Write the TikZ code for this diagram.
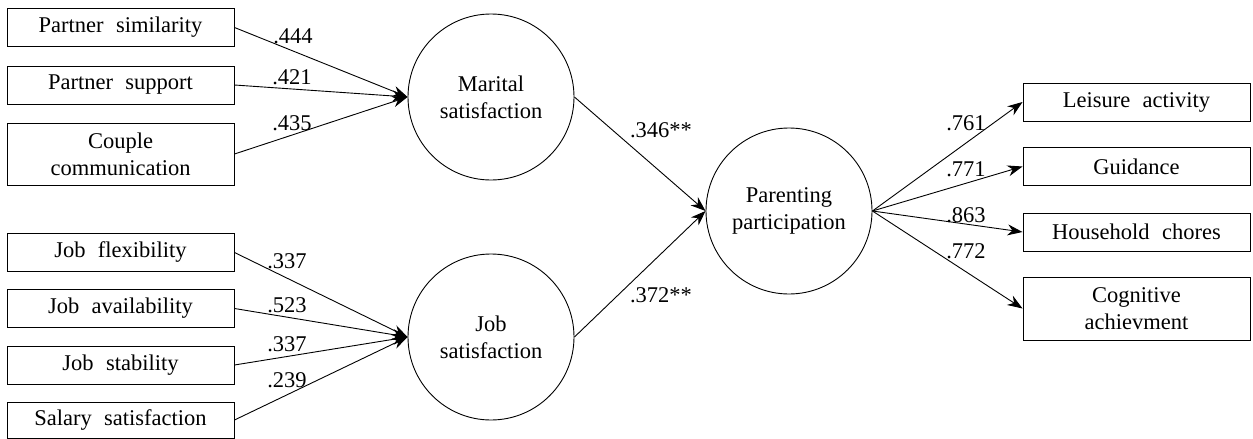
\documentclass[tikz,border=0pt]{standalone}
\usepackage{fontspec}
\setmainfont{Liberation Serif}
\usetikzlibrary{arrows.meta}
\newcommand{\gap}{\hspace{0.55em}}
\begin{document}
\begin{tikzpicture}[x=1pt,y=-1pt,
  font=\fontsize{22.5}{27}\selectfont,
  box/.style={draw, line width=1pt, minimum width=227pt, minimum height=38pt, inner sep=0pt, align=center},
  tallbox/.style={box, minimum height=62pt},
  lat/.style={draw, circle, minimum size=166pt, inner sep=0pt, align=center, line width=0.9pt},
  arr/.style={-{Stealth[length=15pt,width=11pt]}, line width=0.9pt},
  lab/.style={inner sep=0pt}]
\useasboundingbox (0,0) rectangle (1253,439);
% left indicators
\node[box] (ps) at (120.5,27.5) {Partner\gap similarity};
\node[box] (psu) at (120.5,85) {Partner\gap support};
\node[tallbox] (cc) at (120.5,154) {Couple\\communication};
\node[box] (jf) at (120.5,252.5) {Job\gap flexibility};
\node[box] (ja) at (120.5,308.5) {Job\gap availability};
\node[box] (jst) at (120.5,365) {Job\gap stability};
\node[box, minimum height=36pt] (ss) at (120.5,420) {Salary\gap satisfaction};
% latent variables
\node[lat] (ms) at (491,97) {Marital\\satisfaction};
\node[lat] (jsat) at (491,337) {Job\\satisfaction};
\node[lat] (pp) at (789,211) {Parenting\\participation};
% right indicators
\node[box] (la) at (1136.5,102) {Leisure\gap activity};
\node[box] (gd) at (1136.5,166.5) {Guidance};
\node[box] (hc) at (1136.5,232) {Household\gap chores};
\node[tallbox, minimum height=63pt] (ca) at (1136.5,308.5) {Cognitive\\achievment};
% connectors
\draw[arr] (ps.east) -- (ms.west);
\draw[arr] (psu.east) -- (ms.west);
\draw[arr] (cc.east) -- (ms.west);
\draw[arr] (jf.east) -- (jsat.west);
\draw[arr] (ja.east) -- (jsat.west);
\draw[arr] (jst.east) -- (jsat.west);
\draw[arr] (ss.east) -- (jsat.west);
\draw[arr] (ms.east) -- (pp.west);
\draw[arr] (jsat.east) -- (pp.west);
\draw[arr] (pp.east) -- (la.west);
\draw[arr] (pp.east) -- (gd.west);
\draw[arr] (pp.east) -- (hc.west);
\draw[arr] (pp.east) -- (ca.west);
% labels
\node[lab] (l1) at (293,36) {.444};
\node[lab] (l2) at (292,77.5) {.421};
\node[lab] (l3) at (292,123) {.435};
\node[lab] (l4) at (287,261) {.337};
\node[lab] (l5) at (287,305.5) {.523};
\node[lab] (l6) at (287,344.5) {.337};
\node[lab] (l7) at (287,380.5) {.239};
\node[lab] (l8) at (661,130) {.346**};
\node[lab] (l9) at (661,295) {.372**};
\node[lab] (l10) at (966,123.5) {.761};
\node[lab] (l11) at (966,169.5) {.771};
\node[lab] (l12) at (966,215) {.863};
\node[lab] (l13) at (966,251) {.772};
\end{tikzpicture}
\end{document}
